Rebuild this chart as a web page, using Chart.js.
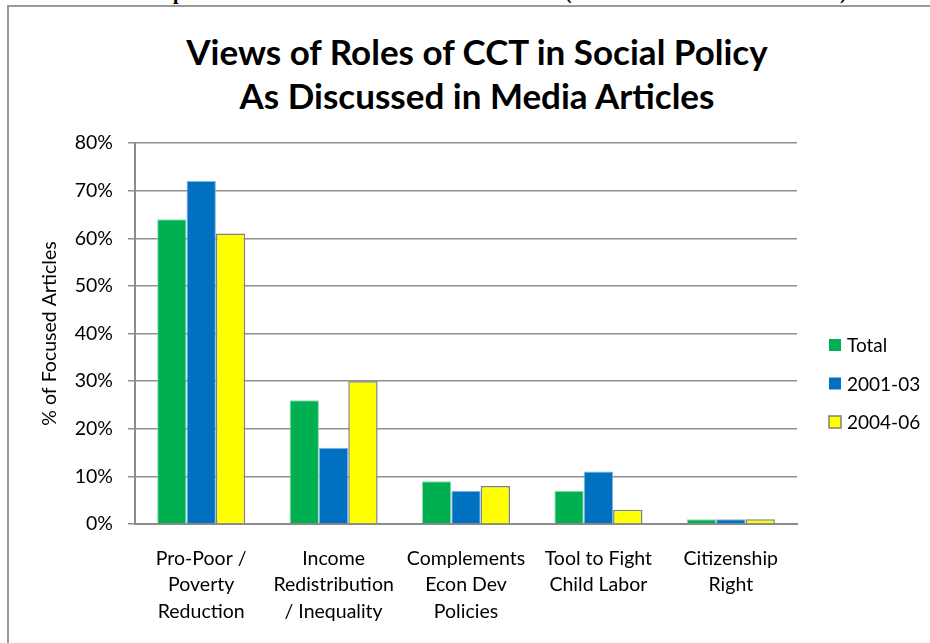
<!DOCTYPE html>
<html lang="en">
<head>
    <meta charset="UTF-8">
    <title>Views of Roles of CCT in Social Policy</title>
    <script src="https://cdn.jsdelivr.net/npm/chart.js"></script>
    <style>
        body {
            margin: 0;
            background: #fff;
            font-family: 'Lato', sans-serif;
        }
        .page {
            position: relative;
            width: 930px;
            height: 643px;
            overflow: hidden;
        }
        .frame {
            position: absolute;
            left: 7px;
            top: 5px;
            right: -4px;
            bottom: -4px;
            border-top: 2px solid #9a9a9a;
            border-left: 2px solid #9a9a9a;
        }
        /* bottom of the document line above the chart */
        .cut {
            position: absolute;
            left: 0;
            top: 0;
            width: 930px;
            height: 5px;
            overflow: hidden;
        }
        .cut span {
            position: absolute;
            top: -18px;
            font: bold 20px/20px 'Liberation Serif', serif;
            color: #000;
        }
        .chart-title {
            position: absolute;
            left: 0;
            width: 954px;
            top: 29px;
            text-align: center;
            font: bold 35px/44px 'Lato', sans-serif;
            color: #000;
        }
        canvas {
            position: absolute;
            left: 0;
            top: 0;
        }
    </style>
</head>
<body>
<div class="page">
    <div class="cut"><span style="left:173px">p</span><span style="left:565px">(</span><span style="left:840px">)</span></div>
    <div class="frame"></div>
    <div class="chart-title">Views of Roles of CCT in Social Policy<br>As Discussed in Media Articles</div>
    <canvas id="rolesChart" width="930" height="643"></canvas>
</div>
<script>
    // Share of focused articles per role (%)
    const roles = [
        ['Pro-Poor /', 'Poverty', 'Reduction'],
        ['Income', 'Redistribution', '/ Inequality'],
        ['Complements', 'Econ Dev', 'Policies'],
        ['Tool to Fight', 'Child Labor'],
        ['Citizenship', 'Right']
    ];
    const seriesNames = ['Total', '2001-03', '2004-06'];
    const totalValues = [64, 26, 9, 7, 1];
    const early = [72, 16, 7, 11, 1];
    const late = [61, 30, 8, 3, 1];
    const yTicks = [0, 10, 20, 30, 40, 50, 60, 70, 80];

    const fillColors = ['#00b050', '#0070c0', '#ffff00'];
    const edgeColors = ['#8fdcb4', '#7fb6e4', '#808080'];

    const font = { family: "'Lato', sans-serif", size: 19.5 };

    // Legend drawn beside the plot, one row per dataset
    const sideLegend = {
        id: 'sideLegend',
        afterDraw(chart) {
            const ctx = chart.ctx;
            ctx.save();
            ctx.font = "19px 'Lato', sans-serif";
            ctx.textBaseline = 'middle';
            chart.data.datasets.forEach((ds, i) => {
                const y = 345 + i * 38.5;
                ctx.fillStyle = ds.backgroundColor;
                ctx.fillRect(829, y - 6, 12, 12);
                if (i === 2) {
                    ctx.strokeStyle = ds.borderColor;
                    ctx.lineWidth = 1.5;
                    ctx.strokeRect(829, y - 6, 12, 12);
                }
                ctx.fillStyle = '#000';
                ctx.fillText(ds.label, 847, y + 1);
            });
            ctx.restore();
        }
    };

    new Chart(document.getElementById('rolesChart'), {
        type: 'bar',
        data: {
            labels: roles,
            datasets: [
                { label: seriesNames[0], data: totalValues, backgroundColor: fillColors[0], borderColor: edgeColors[0], borderWidth: 1 },
                { label: seriesNames[1], data: early, backgroundColor: fillColors[1], borderColor: edgeColors[1], borderWidth: 1 },
                { label: seriesNames[2], data: late, backgroundColor: fillColors[2], borderColor: edgeColors[2], borderWidth: 1.5 }
            ]
        },
        options: {
            responsive: false,
            animation: false,
            layout: { padding: { left: 34, right: 133, top: 143, bottom: 0 } },
            datasets: {
                bar: { categoryPercentage: 0.665, barPercentage: 1 }
            },
            plugins: {
                legend: { display: false },
                title: { display: false },
                tooltip: { enabled: false }
            },
            scales: {
                x: {
                    grid: { display: false, drawTicks: false },
                    border: { color: '#8a8a8a', width: 2 },
                    ticks: {
                        color: '#000',
                        font: { ...font, lineHeight: 1.36 },
                        padding: 21,
                        maxRotation: 0,
                        autoSkip: false
                    },
                    afterFit(scale) { scale.height = 119; }
                },
                y: {
                    min: 0,
                    max: 80,
                    afterBuildTicks(scale) {
                        scale.ticks = yTicks.map(v => ({ value: v }));
                    },
                    grid: { color: '#8f8f8f', lineWidth: 1.5, tickLength: 7 },
                    border: { color: '#8a8a8a', width: 2 },
                    ticks: {
                        color: '#000',
                        font: font,
                        padding: 15,
                        callback: v => v + '%'
                    },
                    title: {
                        display: true,
                        text: '% of Focused Articles',
                        color: '#000',
                        font: font,
                        padding: { top: 4, bottom: 0 }
                    },
                    afterFit(scale) { scale.width = 101; }
                }
            }
        },
        plugins: [sideLegend]
    });
</script>
</body>
</html>
